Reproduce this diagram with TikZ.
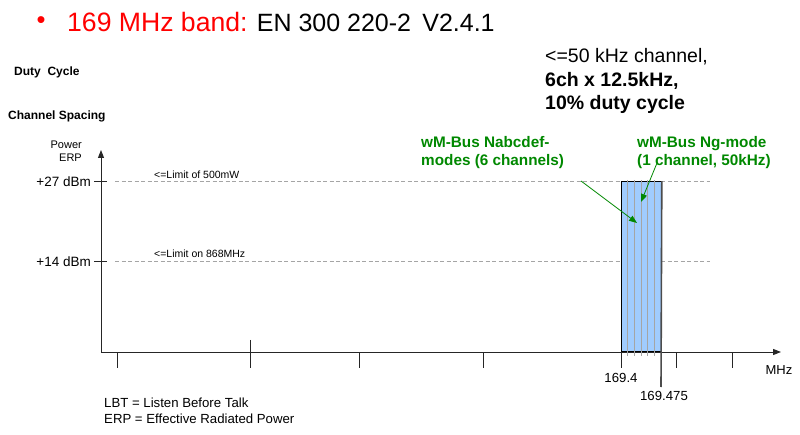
\documentclass[tikz,border=0pt]{standalone}
\usepackage{fontspec}
\setmainfont{Liberation Sans}
\usetikzlibrary{arrows.meta,positioning}

\definecolor{bandred}{RGB}{255,0,0}
\definecolor{modegreen}{RGB}{0,136,0}
\definecolor{chanblue}{RGB}{160,204,255}
\definecolor{limitgray}{RGB}{165,165,165}

\begin{document}
\begin{tikzpicture}[
    x=1pt, y=-1pt,
    >={Triangle[length=8pt,width=6pt]},
    axisline/.style={
        draw=black!85,
        line width=1pt
    },
    tickline/.style={
        draw=black!85,
        line width=1pt
    },
    limitline/.style={
        draw=limitgray,
        dash pattern=on 4pt off 2.5pt,
        line width=1pt
    },
    chanline/.style={
        draw=limitgray,
        line width=1pt
    },
    modearrow/.style={
        ->,
        >={Triangle[length=8pt,width=6pt]},
        draw=modegreen,
        line width=0.8pt
    },
    lbl/.style={
        inner sep=0pt,
        font=\fontsize{#1}{#1}\selectfont
    },
    boldlbl/.style={
        inner sep=0pt,
        font=\bfseries\fontsize{#1}{#1}\selectfont
    },
    modetext/.style={
        inner sep=0pt,
        anchor=base west,
        align=left,
        text=modegreen,
        font=\bfseries\fontsize{15.3}{18}\selectfont
    }
]
\useasboundingbox (0,0) rectangle (800,435);

% ---- Title and side notes ----
\node[lbl=25.5, text=bandred] (bullet) at (41,23) {\textbullet};
\node[lbl=25, anchor=west] (title) at (67,22) {\textcolor{bandred}{\fontsize{26.6}{26.6}\selectfont 169 MHz band:} EN 300 220-2\hspace{0.45em}V2.4.1};

\node[boldlbl=12, anchor=west] (duty) at (14,72) {Duty\ \ Cycle};
\node[boldlbl=12, anchor=west] (spacing) at (8,116) {Channel Spacing};

\node[lbl=19.5, anchor=base west, align=left, font=\fontsize{19.5}{23.5}\selectfont] (rules) at (545,110)
    {<=50 kHz channel,\\\textbf{6ch x 12.5kHz,}\\\textbf{10\% duty cycle}};

% ---- Axes ----
\coordinate (origin) at (101,352);
\coordinate (ytop)   at (101,150);
\coordinate (xend)   at (781,352);
\draw[axisline,<->] (ytop) -- (origin) -- (xend);

\node[lbl=11, anchor=east, align=right, font=\fontsize{11}{13}\selectfont] (power) at (82,151) {Power\\ERP};
\node[lbl=13] (mhz) at (779,370) {MHz};

% ---- Power limits ----
\draw[tickline] (94,182) -- (107,182);
\draw[tickline] (94,262) -- (107,262);
\node[lbl=13.5, anchor=east] (dbm27) at (91,182) {+27 dBm};
\node[lbl=13.5, anchor=east] (dbm14) at (91,262) {+14 dBm};

\draw[limitline] (115,182) -- (710,182);
\draw[limitline] (115,262) -- (710,262);
\node[lbl=10.5, anchor=west] (lim500) at (154,175) {<=Limit of 500mW};
\node[lbl=10.5, anchor=west] (lim868) at (154,254) {<=Limit on 868MHz};

% ---- Frequency ticks ----
\foreach \tx in {117,359,483,621,676,732}
    \draw[tickline] (\tx,352) -- (\tx,368);
\draw[tickline] (250,340) -- (250,368);

% ---- 169 MHz band block ----
\node[draw=black, fill=chanblue, line width=0.8pt, inner sep=0pt, minimum width=40pt, minimum height=170pt, anchor=south west] (band) at (621,352) {};
\foreach \cx in {627.7,634.3,641,647.7,654.3}
    \draw[chanline] (\cx,180) -- (\cx,356);
\draw[draw=black!70, line width=1.6pt] (band.north east) -- (661,387);

\node[lbl=13.2] (f1) at (621,378) {169.4};
\node[lbl=13.2] (f2) at (664,396) {169.475};

% ---- Mode labels ----
\node[modetext] (nabc) at (421,166) {wM-Bus Nabcdef-\\modes (6 channels)};
\node[modetext] (ngm)  at (637,166) {wM-Bus Ng-mode\\(1 channel, 50kHz)};

\coordinate (nabcfrom) at (581,181);
\coordinate (nabcto)   at (637,223);
\coordinate (ngfrom)   at (657,163);
\coordinate (ngto)     at (641,202);
\draw[modearrow] (nabcfrom) -- (nabcto);
\draw[modearrow] (ngfrom) -- (ngto);

% ---- Abbreviations ----
\node[lbl=13.2, anchor=west] (lbt) at (104,403) {LBT = Listen Before Talk};
\node[lbl=13.2, anchor=west] (erp) at (104,419) {ERP = Effective Radiated Power};

\end{tikzpicture}
\end{document}
